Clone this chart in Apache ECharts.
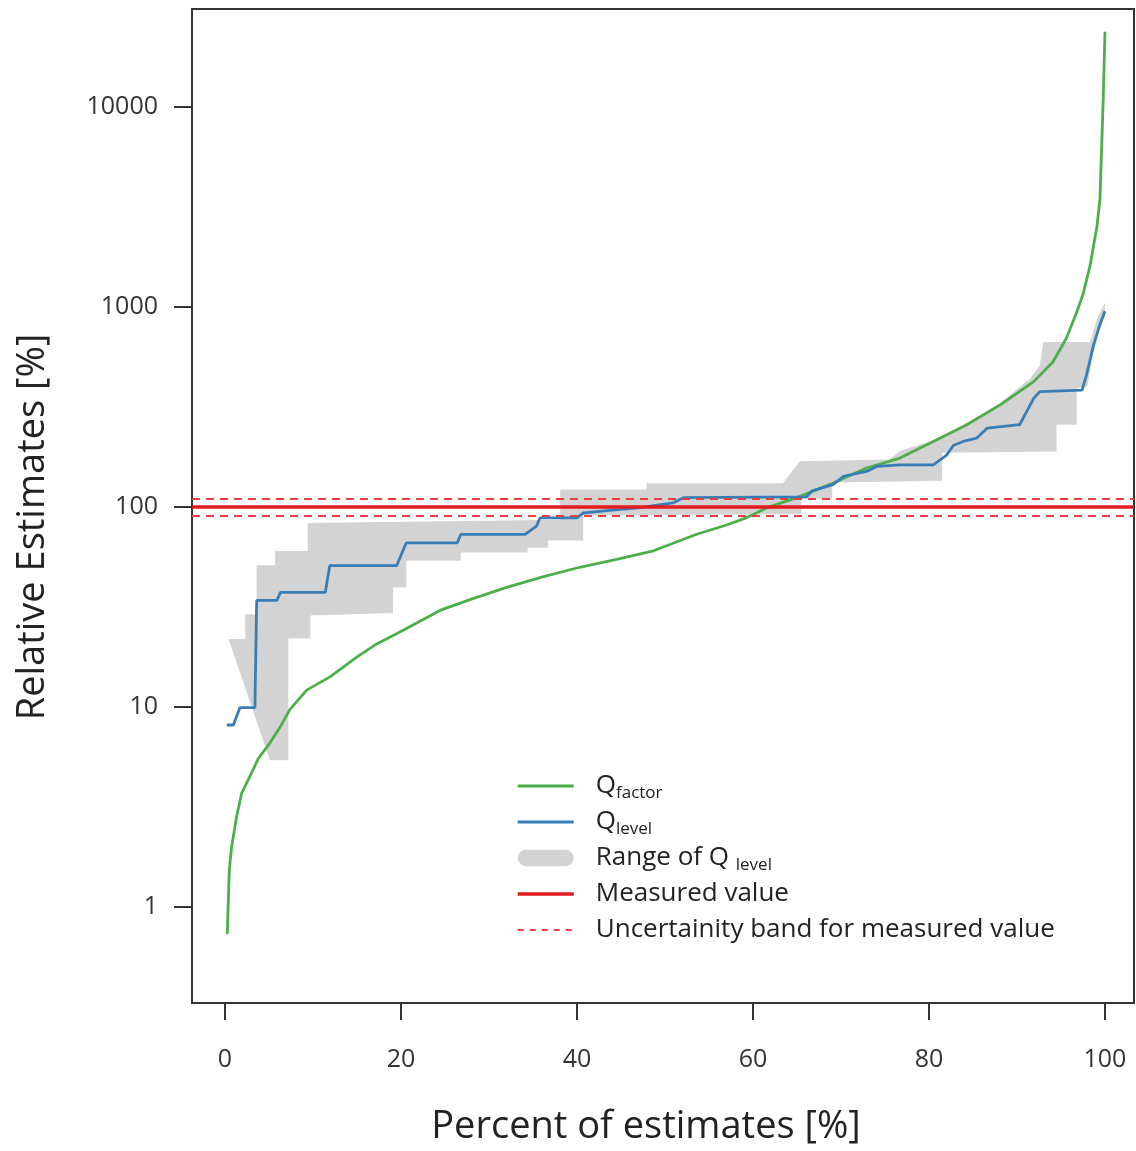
<!DOCTYPE html>
<html>
<head>
<meta charset="utf-8">
<script src="https://cdn.jsdelivr.net/npm/echarts@6/dist/echarts.min.js"></script>
<style>
  html, body { margin: 0; padding: 0; background: #ffffff; }
  #chart { width: 1136px; height: 1151px; }
</style>
</head>
<body>
<div id="chart"></div>
<script>
// Axis ticks
const pctTicks = [0, 20, 40, 60, 80, 100];
const valueTicks = [1, 10, 100, 1000, 10000];

// Q_factor: sorted relative estimates (percent of estimates, relative estimate %)
const qFactorPct = [0.26, 0.49, 0.76, 1.33, 1.9, 2.84, 3.78, 5.11, 6.25, 7.39, 9.28, 11.93, 14.97, 17.24, 20.26, 24.43, 28.0, 32.0, 36.0, 40.3, 44.5, 48.7, 53.6, 57.0, 59.3, 61.6, 65.0, 68.9, 72.9, 76.7, 80.5, 84.3, 88.1, 91.9, 94.1, 95.6, 96.8, 97.5, 98.3, 99.1, 99.43, 99.8, 100];
const qFactorVal = [0.73, 1.54, 2.0, 2.84, 3.7, 4.5, 5.5, 6.6, 7.9, 9.7, 12.1, 14.1, 17.7, 20.6, 24.1, 30.3, 34.5, 39.5, 44.5, 49.8, 54.5, 60.2, 72.8, 81, 88.2, 98.9, 111, 130, 156, 175, 212, 257, 323, 422, 531, 693, 941, 1150, 1600, 2540, 3440, 10800, 23700];

// Q_level: stepwise sorted estimates
const qLevelPct = [0.2, 0.95, 1.7, 3.4, 3.6, 5.9, 6.3, 11.4, 11.9, 19.5, 20.6, 26.4, 26.8, 34.1, 35.4, 35.8, 40.0, 40.7, 43.4, 47.2, 50.9, 52.1, 66.1, 66.7, 69.1, 70.3, 72.9, 74.1, 76.7, 80.5, 82.0, 82.8, 83.9, 85.4, 86.6, 90.3, 91.1, 91.9, 92.6, 97.4, 97.9, 98.7, 99.4, 100];
const qLevelVal = [8.1, 8.1, 9.9, 9.9, 34, 34, 37.3, 37.3, 50.7, 50.7, 66, 66, 72.8, 72.8, 80, 88, 88, 93, 95.6, 99, 104.5, 111, 112, 120, 129, 142, 150, 159, 162, 162, 181, 203, 212, 220, 247, 257, 299, 348, 376, 383, 455, 643, 807, 950];

// Range of Q_level: upper and lower envelopes
const bandUpperPct = [0.4, 2.3, 2.3, 3.6, 3.6, 5.7, 5.7, 9.4, 9.4, 38.1, 38.1, 47.9, 47.9, 63.4, 65.3, 75.5, 76.7, 80.5, 84.3, 88.1, 91.5, 92.6, 93.0, 98.3, 99.1, 100];
const bandUpperVal = [21.8, 21.8, 29, 29, 51, 51, 60, 60, 83, 86, 122, 122, 131, 131, 169, 172, 190, 215, 262, 330, 437, 510, 667, 667, 870, 1050];
const bandLowerPct = [0.4, 5.1, 7.2, 7.2, 9.7, 9.7, 19.1, 19.1, 20.6, 20.6, 26.8, 26.8, 34.4, 34.4, 36.7, 36.7, 40.7, 40.7, 65.5, 65.5, 69.0, 69.0, 81.5, 81.5, 94.5, 94.5, 96.8, 96.8, 98.0, 98.7, 99.4, 100];
const bandLowerVal = [21.8, 5.4, 5.4, 21.9, 21.9, 28.6, 29.4, 39.5, 39.5, 53.7, 53.7, 59, 59, 62.4, 62.4, 67.8, 67.8, 90, 92, 110, 110, 132, 135, 186, 189, 257, 257, 391, 400, 600, 780, 920];

// Measured value and its uncertainty band
const measuredValue = 100;
const uncertaintyBand = [90, 110];

const FONT = '"Open Sans", "Noto Sans", sans-serif';
const zip = (xs, ys) => xs.map((x, i) => [x, ys[i]]);

// Closed outline of the range band: upper edge left→right, lower edge right→left
const bandOutline = zip(bandUpperPct, bandUpperVal).concat(zip(bandLowerPct, bandLowerVal).reverse());

const names = {
  factor: 'Q factor',
  level: 'Q level',
  range: 'Range of Q level',
  measured: 'Measured value',
  band: 'Uncertainity band for measured value'
};
const legendLabels = {};
legendLabels[names.factor] = 'Q{sub|factor}';
legendLabels[names.level] = 'Q{sub|level}';
legendLabels[names.range] = 'Range of Q {sub|level}';
legendLabels[names.measured] = 'Measured value';
legendLabels[names.band] = 'Uncertainity band for measured value';

const chart = echarts.init(document.getElementById('chart'), null, { renderer: 'canvas' });

chart.setOption({
  animation: false,
  backgroundColor: '#ffffff',
  grid: {
    left: 192, top: 9, width: 942, bottom: 143,
    show: true, borderColor: '#333333', borderWidth: 2, backgroundColor: 'transparent'
  },
  xAxis: {
    type: 'value', min: -3.75, max: 103.3,
    name: 'Percent of estimates [%]', nameLocation: 'middle', nameGap: 105,
    nameTextStyle: { fontFamily: FONT, fontSize: 38, color: '#222222', padding: [0, 34, 0, 0] },
    axisLine: { show: false, onZero: false },
    splitLine: { show: false },
    axisTick: { show: true, inside: false, length: 17, customValues: pctTicks, lineStyle: { color: '#333333', width: 2 } },
    axisLabel: { customValues: pctTicks, margin: 44, fontFamily: FONT, fontSize: 25, color: '#333333' }
  },
  yAxis: {
    type: 'log', logBase: 10, min: 0.33, max: 30800,
    name: 'Relative Estimates [%]', nameLocation: 'middle', nameGap: 140,
    nameTextStyle: { fontFamily: FONT, fontSize: 38, color: '#222222', padding: [0, 42, 0, 0] },
    axisLine: { show: false, onZero: false },
    splitLine: { show: false },
    axisTick: { show: true, inside: false, length: 18, customValues: valueTicks, lineStyle: { color: '#333333', width: 2 } },
    axisLabel: {
      customValues: valueTicks, margin: 34, fontFamily: FONT, fontSize: 25, color: '#333333',
      formatter: v => String(Math.round(v))
    }
  },
  legend: {
    orient: 'vertical', left: 511, top: 765,
    itemWidth: 56, itemHeight: 18, itemGap: 4,
    selectedMode: false,
    itemStyle: { opacity: 0 },
    lineStyle: { width: 3 },
    formatter: name => legendLabels[name],
    textStyle: {
      fontFamily: FONT, fontSize: 26, color: '#222222', lineHeight: 32, padding: [0, 0, 0, 17],
      rich: { sub: { fontFamily: FONT, fontSize: 17, lineHeight: 16, verticalAlign: 'bottom', color: '#222222' } }
    },
    data: [
      { name: names.factor },
      { name: names.level },
      {
        name: names.range,
        icon: 'path://M9,0 L53,0 A9,9 0 0 1 53,18 L9,18 A9,9 0 0 1 9,0 Z',
        itemStyle: { opacity: 1, color: '#d3d3d3' }
      },
      { name: names.measured, lineStyle: { width: 3.5 } },
      { name: names.band, lineStyle: { width: 2, type: [6, 6] } }
    ]
  },
  series: [
    {
      name: names.range,
      type: 'custom',
      silent: true,
      z: 1,
      itemStyle: { color: '#d3d3d3' },
      encode: { x: 0, y: 1 },
      data: bandOutline,
      renderItem: (params, api) => {
        if (params.dataIndex !== 0) return null;
        return {
          type: 'polygon',
          shape: { points: bandOutline.map(p => api.coord(p)) },
          style: { fill: '#d3d3d3' }
        };
      }
    },
    {
      name: names.measured,
      type: 'line',
      z: 2,
      symbol: 'none',
      data: [],
      itemStyle: { color: '#e41a1c' },
      lineStyle: { color: '#e41a1c', width: 3.5 },
      markLine: {
        silent: true, symbol: ['none', 'none'], label: { show: false },
        lineStyle: { color: '#e41a1c', width: 3.5, type: 'solid' },
        data: [{ yAxis: measuredValue }]
      }
    },
    {
      name: names.band,
      type: 'line',
      z: 2,
      symbol: 'none',
      data: [],
      itemStyle: { color: '#e8413f' },
      lineStyle: { color: '#e8413f', width: 2, type: [6, 6] },
      markLine: {
        silent: true, symbol: ['none', 'none'], label: { show: false },
        lineStyle: { color: '#e8413f', width: 2, type: [8, 6] },
        data: uncertaintyBand.map(v => ({ yAxis: v }))
      }
    },
    {
      name: names.factor,
      type: 'line',
      z: 3,
      symbol: 'none',
      data: zip(qFactorPct, qFactorVal),
      itemStyle: { color: '#4daf4a' },
      lineStyle: { color: '#4daf4a', width: 2.8 }
    },
    {
      name: names.level,
      type: 'line',
      z: 4,
      symbol: 'none',
      data: zip(qLevelPct, qLevelVal),
      itemStyle: { color: '#377eb8' },
      lineStyle: { color: '#377eb8', width: 2.8 }
    }
  ]
});
</script>
</body>
</html>
